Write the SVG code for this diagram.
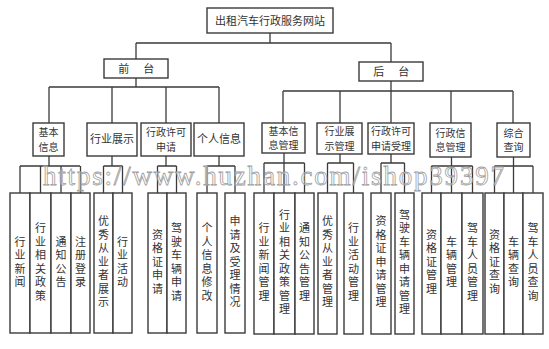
<svg xmlns="http://www.w3.org/2000/svg" width="549" height="349" viewBox="0 0 549 349">
<style>
rect{fill:#fff;stroke:#3a3a3a;stroke-width:1.4}
.c line,.c path{stroke:#3a3a3a;stroke-width:1.3;fill:none}
text{font-family:"Noto Sans CJK SC","Noto Sans",sans-serif;font-size:11px;fill:#333;text-anchor:middle}
.t{font-size:10px}
.v{writing-mode:vertical-rl;letter-spacing:2.5px}
.wm{font-family:"Liberation Serif",serif;font-size:27px;fill:#fff;fill-opacity:0.35;stroke:#a0a0a0;stroke-width:0.8;text-anchor:start}
</style>
<rect x="0" y="0" width="549" height="349" style="stroke:none"/>
<g class="c" id="connectors">
<path d="M270 33V43M136 43H391M136 43V59M391 43V62"/>
<path d="M136 78V87M49 87H219M49 87V123M112 87V123M166 87V123M219 87V123"/>
<path d="M391 81V91M283 91H513M283 91V123M340 91V123M391 91V123M451 91V123M513 91V123"/>
<path d="M49 156V166M20 166H80M20 166V193M40.5 166V193M61 166V193M80.5 166V193"/>
<path d="M112 156V166M103.5 166H122.5M103.5 166V193M122.5 166V193"/>
<path d="M166 156V166M157.5 166H176.5M157.5 166V193M176.5 166V193"/>
<path d="M219 156V166M207 166H235M207 166V193M235 166V193"/>
<path d="M284 153V193M264 163H304.5M264 163V193M304.5 163V193"/>
<path d="M340 154V163M327.5 163H353.5M327.5 163V193M353.5 163V193"/>
<path d="M391 154V163M381 163H404.5M381 163V193M404.5 163V193"/>
<path d="M451.5 157V193M431.5 166H472.5M431.5 166V193M472.5 166V193"/>
<path d="M513.5 157V193M494.5 166H533M494.5 166V193M533 166V193"/>
</g>
<g id="root"><rect x="207" y="8" width="126" height="25"/><text x="270" y="24.5">出租汽车行政服务网站</text></g>
<g id="front"><rect x="104" y="59" width="64" height="19"/><text x="137" y="72.5" style="letter-spacing:1.5px">前　台</text></g>
<g id="back"><rect x="359" y="62" width="64" height="19"/><text x="392" y="75.5" style="letter-spacing:1.5px">后　台</text></g>
<g id="f1"><rect x="33" y="123" width="31" height="33"/><text class="t" x="48.5" y="136">基本<tspan x="48.5" dy="14.5">信息</tspan></text></g>
<g id="f2"><rect x="87" y="123" width="50" height="33"/><text x="112" y="143">行业展示</text></g>
<g id="f3"><rect x="141" y="123" width="50" height="33"/><text class="t" x="166" y="136">行政许可<tspan x="166" dy="14.5">申请</tspan></text></g>
<g id="f4"><rect x="194" y="123" width="50" height="33"/><text x="219" y="143">个人信息</text></g>
<g id="b1"><rect x="262" y="123" width="43" height="30"/><text class="t" x="283.5" y="134.5">基本信<tspan x="283.5" dy="14.5">息管理</tspan></text></g>
<g id="b2"><rect x="317" y="123" width="45" height="31"/><text class="t" x="339.5" y="135">行业展<tspan x="339.5" dy="14.5">示管理</tspan></text></g>
<g id="b3"><rect x="368" y="123" width="46" height="31"/><text class="t" x="391" y="135">行政许可<tspan x="391" dy="14.5">申请受理</tspan></text></g>
<g id="b4"><rect x="430" y="123" width="41" height="34"/><text class="t" x="450.5" y="136.5">行政信<tspan x="450.5" dy="14.5">息管理</tspan></text></g>
<g id="b5"><rect x="497" y="123" width="33" height="34"/><text class="t" x="513.5" y="136.5">综合<tspan x="513.5" dy="14.5">查询</tspan></text></g>
<g id="l1"><rect x="10" y="193" width="20" height="140"/><text class="v" x="20" y="263">行业新闻</text></g>
<g id="l2"><rect x="30" y="193" width="21" height="140"/><text class="v" x="40.5" y="263">行业相关政策</text></g>
<g id="l3"><rect x="51" y="193" width="20" height="140"/><text class="v" x="61" y="263">通知公告</text></g>
<g id="l4"><rect x="71" y="193" width="19" height="140"/><text class="v" x="80.5" y="263">注册登录</text></g>
<g id="l5"><rect x="94" y="193" width="19" height="140"/><text class="v" x="103.5" y="263">优秀从业者展示</text></g>
<g id="l6"><rect x="113" y="193" width="19" height="140"/><text class="v" x="122.5" y="263">行业活动</text></g>
<g id="l7"><rect x="148" y="193" width="19" height="140"/><text class="v" x="157.5" y="263">资格证申请</text></g>
<g id="l8"><rect x="167" y="193" width="19" height="140"/><text class="v" x="176.5" y="263">驾驶车辆申请</text></g>
<g id="l9"><rect x="197" y="193" width="20" height="140"/><text class="v" x="207" y="263">个人信息修改</text></g>
<g id="l10"><rect x="225" y="193" width="20" height="140"/><text class="v" x="235" y="263">申请及受理情况</text></g>
<g id="l11"><rect x="254" y="193" width="20" height="141"/><text class="v" x="264" y="263">行业新闻管理</text></g>
<g id="l12"><rect x="274" y="193" width="21" height="141"/><text class="v" x="284.5" y="263">行业相关政策管理</text></g>
<g id="l13"><rect x="295" y="193" width="19" height="141"/><text class="v" x="304.5" y="263">通知公告管理</text></g>
<g id="l14"><rect x="318" y="193" width="19" height="141"/><text class="v" x="327.5" y="263">优秀从业者管理</text></g>
<g id="l15"><rect x="344" y="193" width="19" height="141"/><text class="v" x="353.5" y="263">行业活动管理</text></g>
<g id="l16"><rect x="371" y="193" width="20" height="141"/><text class="v" x="381" y="263">资格证申请管理</text></g>
<g id="l17"><rect x="395" y="193" width="19" height="141"/><text class="v" x="404.5" y="263">驾驶车辆申请管理</text></g>
<g id="l18"><rect x="422" y="193" width="19" height="141"/><text class="v" x="431.5" y="263">资格证管理</text></g>
<g id="l19"><rect x="441" y="193" width="21" height="141"/><text class="v" x="451.5" y="263">车辆管理</text></g>
<g id="l20"><rect x="462" y="193" width="21" height="141"/><text class="v" x="472.5" y="263">驾车人员管理</text></g>
<g id="l21"><rect x="485" y="193" width="19" height="141"/><text class="v" x="494.5" y="263">资格证查询</text></g>
<g id="l22"><rect x="504" y="193" width="19" height="141"/><text class="v" x="513.5" y="263">车辆查询</text></g>
<g id="l23"><rect x="523" y="193" width="20" height="141"/><text class="v" x="533" y="263">驾车人员查询</text></g>
<text class="wm" x="43" y="185" textLength="461" lengthAdjust="spacing">https://www.huzhan.com/ishop39397</text>
</svg>
